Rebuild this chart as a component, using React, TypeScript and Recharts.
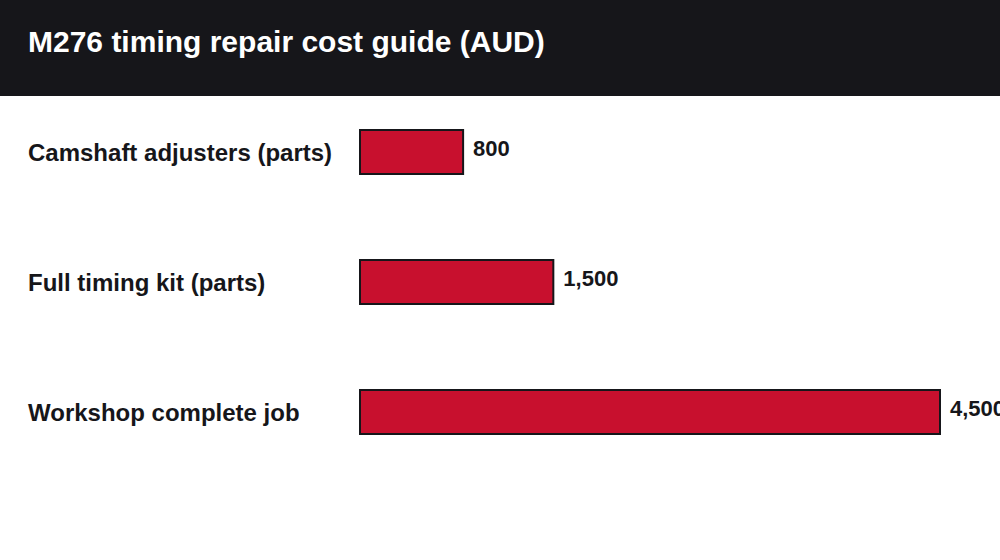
import { BarChart, Bar, XAxis, YAxis, LabelList } from 'recharts';

const categories = ['Camshaft adjusters (parts)', 'Full timing kit (parts)', 'Workshop complete job'];
const costs = [800, 1500, 4500];

const data = categories.map((name, i) => ({ name, cost: costs[i] }));

const FONT = '"Liberation Sans", Arial, Helvetica, sans-serif';
const INK = '#16161a';

function CategoryTick({ y, payload }: any) {
  return (
    <text x={28} y={y} dy={8.5} textAnchor="start" fill={INK} fontSize={24} fontWeight={700} fontFamily={FONT}>
      {payload.value}
    </text>
  );
}

export default function App() {
  return (
    <div style={{ position: 'absolute', left: 0, top: 0, width: 1000, height: 560, background: '#fff', fontFamily: FONT }}>
      <div style={{ position: 'absolute', left: 0, top: 0, width: 1000, height: 96, background: INK }} />
      <div
        style={{
          position: 'absolute',
          left: 28,
          top: 0,
          color: '#fff',
          fontSize: 30,
          fontWeight: 700,
          lineHeight: '83px',
          whiteSpace: 'nowrap',
        }}
      >
        M276 timing repair cost guide (AUD)
      </div>
      <div style={{ position: 'absolute', left: 0, top: 0 }}>
        <BarChart
          width={1000}
          height={560}
          data={data}
          layout="vertical"
          margin={{ top: 87, right: 60, bottom: 83, left: 0 }}
        >
          <XAxis type="number" domain={[0, 4500]} hide />
          <YAxis
            type="category"
            dataKey="name"
            width={360}
            axisLine={false}
            tickLine={false}
            tick={<CategoryTick />}
          />
          <Bar dataKey="cost" fill="#c8102e" stroke={INK} strokeWidth={2} barSize={44} isAnimationActive={false}>
            <LabelList
              dataKey="cost"
              position="right"
              offset={10}
              dy={-4}
              formatter={(v: any) => Number(v).toLocaleString('en-US')}
              style={{ fill: INK, fontSize: 22, fontWeight: 700, fontFamily: FONT }}
            />
          </Bar>
        </BarChart>
      </div>
    </div>
  );
}
